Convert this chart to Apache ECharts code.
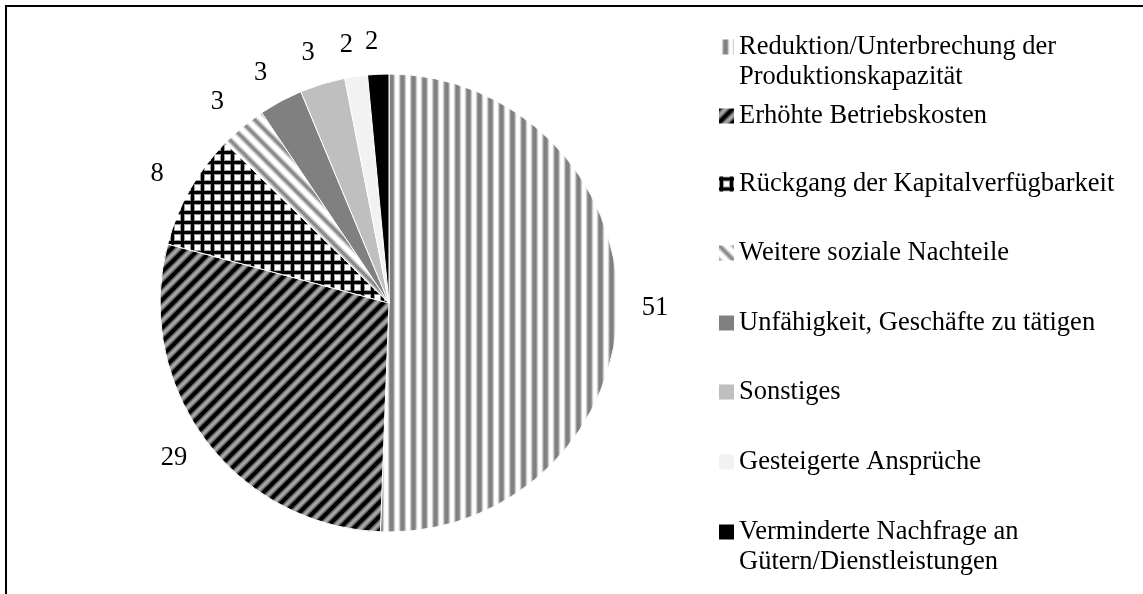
<!DOCTYPE html>
<html>
<head>
<meta charset="utf-8">
<script src="https://cdn.jsdelivr.net/npm/echarts@6/dist/echarts.min.js"></script>
<style>
  html, body { margin: 0; padding: 0; background: #fff; }
  #container { width: 1143px; height: 594px; }
</style>
</head>
<body>
<div id="container"></div>
<script>
// Daten (Anteile in %, aus den Sektorwinkeln geschätzt; Beschriftung gerundet)
let categories = [
    'Reduktion/Unterbrechung der\nProduktionskapazität',
    'Erhöhte Betriebskosten',
    'Rückgang der Kapitalverfügbarkeit',
    'Weitere soziale Nachteile',
    'Unfähigkeit, Geschäfte zu tätigen',
    'Sonstiges',
    'Gesteigerte Ansprüche',
    'Verminderte Nachfrage an\nGütern/Dienstleistungen'
];
let values = [50.7, 28.6, 8.2, 3.3, 3.1, 3.2, 1.6, 1.5];

// Muster wie im Original (Excel-Schraffuren)
function makeCanvas(w, h, bg) {
    let c = document.createElement('canvas');
    c.width = w; c.height = h;
    let ctx = c.getContext('2d');
    ctx.fillStyle = bg;
    ctx.fillRect(0, 0, w, h);
    return [c, ctx];
}
function vStripes() {
    let [c, ctx] = makeCanvas(11, 4, '#fff');
    let cols = ['#fff', '#fff', '#f4f4f4', '#cfcfcf', '#999', '#808080', '#808080', '#808080', '#999', '#cfcfcf', '#f4f4f4'];
    cols.forEach((col, i) => { ctx.fillStyle = col; ctx.fillRect(i, 0, 1, 4); });
    return c;
}
function diagStripes(size, bg, fg, w, dir, edge) {
    let [c, ctx] = makeCanvas(size, size, bg);
    ctx.lineCap = 'square';
    let draw = (lw, col) => {
        ctx.strokeStyle = col; ctx.lineWidth = lw;
        [-size, 0, size].forEach(k => {
            ctx.beginPath();
            if (dir > 0) { ctx.moveTo(k, size); ctx.lineTo(k + size, 0); }
            else { ctx.moveTo(k, 0); ctx.lineTo(k + size, size); }
            ctx.stroke();
        });
    };
    draw(w + 3, edge);
    draw(w, fg);
    return c;
}
function crossHatch() {
    let [c, ctx] = makeCanvas(10, 10, '#fff');
    ctx.fillStyle = '#999';
    ctx.fillRect(0, 0, 5, 10); ctx.fillRect(0, 0, 10, 5);
    ctx.fillStyle = '#000';
    ctx.fillRect(1, 0, 3, 10); ctx.fillRect(0, 1, 10, 3);
    return c;
}

let fills = [
    { image: vStripes(), repeat: 'repeat' },
    { image: diagStripes(14, '#a6a6a6', '#000', 4, 1, '#666'), repeat: 'repeat' },
    { image: crossHatch(), repeat: 'repeat' },
    { image: diagStripes(15, '#fff', '#8a8a8a', 3, -1, '#c8c8c8'), repeat: 'repeat' },
    '#808080',
    '#bfbfbf',
    '#f2f2f2',
    '#000000'
];
// Mitte der ersten Legendenzeile je Eintrag
let legendRows = [47, 116, 184, 253, 323, 392, 462, 532];

let dom = document.getElementById('container');
let myChart = echarts.init(dom);
let font = '"Liberation Serif", "Times New Roman", serif';
let lh = 30;

let pieData = categories.map((name, i) => ({
    name: name,
    value: values[i],
    itemStyle: { color: fills[i] }
}));

let legends = categories.map((name, i) => {
    let twoLines = name.indexOf('\n') >= 0;
    return {
        data: [name],
        orient: 'vertical',
        left: 719,
        top: legendRows[i] - (twoLines ? lh * 1.5 : lh / 2),
        padding: 0,
        itemWidth: 15,
        itemHeight: 15,
        itemGap: 0,
        icon: 'rect',
        itemStyle: { borderWidth: 0 },
        selectedMode: false,
        // Symbol an der ersten Zeile ausrichten
        formatter: n => (twoLines ? '\n' + n : n),
        textStyle: {
            fontFamily: font,
            fontSize: 26.5,
            color: '#000',
            lineHeight: lh
        }
    };
});

let option = {
    backgroundColor: '#fff',
    animation: false,
    legend: legends,
    graphic: [{
        type: 'rect',
        shape: { x: 6, y: 6, width: 1300, height: 800 },
        style: { fill: null, stroke: '#000', lineWidth: 2 },
        silent: true
    }],
    series: [{
        type: 'pie',
        center: [389, 303],
        radius: 229,
        startAngle: 90,
        clockwise: true,
        avoidLabelOverlap: false,
        itemStyle: { borderColor: '#fff', borderWidth: 1 },
        label: {
            show: true,
            position: 'outside',
            formatter: p => Math.round(p.value),
            fontFamily: font,
            fontSize: 26.5,
            color: '#000'
        },
        labelLine: { show: false, length: 32, length2: 0 },
        // Beschriftung mittig auf den Ankerpunkt setzen
        labelLayout: function (p) {
            let r = p.labelRect;
            return {
                x: p.align === 'right' ? r.x + r.width : r.x,
                y: r.y + r.height / 2,
                align: 'center',
                verticalAlign: 'middle'
            };
        },
        emphasis: { disabled: true },
        data: pieData
    }]
};
myChart.setOption(option);
</script>
</body>
</html>
